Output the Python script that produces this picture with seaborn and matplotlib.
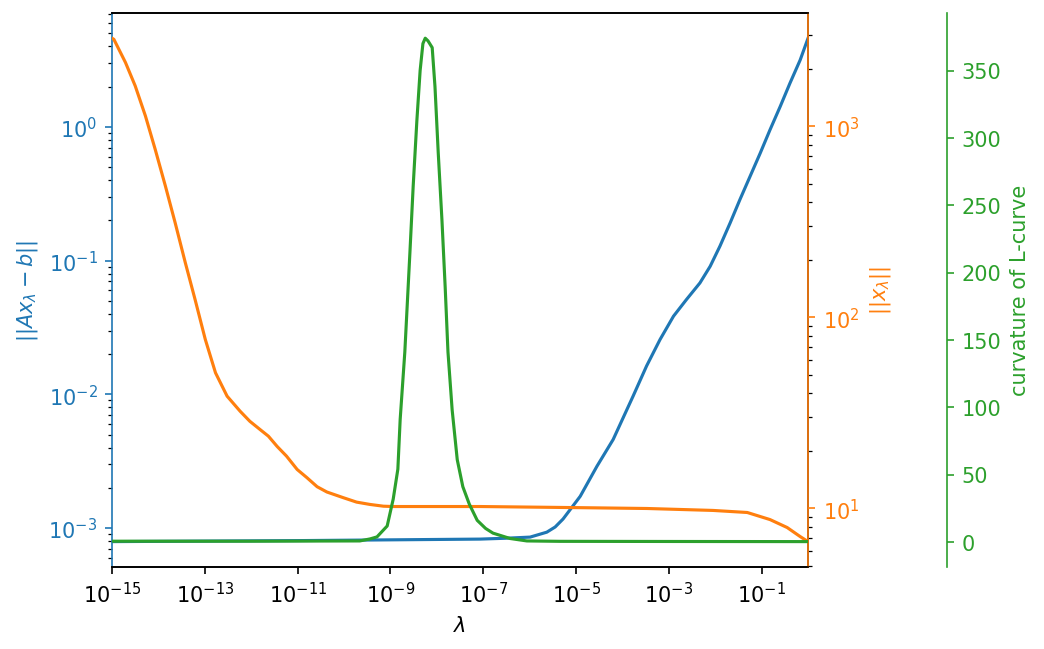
"""
L-curve diagnostics: residual norm, solution norm and L-curve curvature
against the regularisation parameter lambda, on three y-axes.
"""

import numpy as np
import matplotlib
matplotlib.use("Agg")
import matplotlib.pyplot as plt
import seaborn as sns

# residual norm ||A x_lambda - b||  (log10 lambda, value)
resid_exp = [-15.0, -10.95, -7.07, -6.53, -5.99, -5.63, -5.45, -5.28, -4.91,
             -4.55, -4.20, -4.05, -3.77, -3.48, -3.19, -2.90, -2.62, -2.33,
             -2.11, -1.90, -1.68, -1.47, -1.25, -1.03, -0.82, -0.60, -0.39,
             -0.17, 0.0]
resid_val = [7.93e-4, 8.07e-4, 8.28e-4, 8.4e-4, 8.57e-4, 9.33e-4, 1.02e-3,
             1.17e-3, 1.73e-3, 2.90e-3, 4.6e-3, 5.97e-3, 9.71e-3, 0.0163,
             0.0257, 0.0384, 0.0512, 0.0681, 0.0906, 0.128, 0.191, 0.285,
             0.426, 0.637, 0.950, 1.42, 2.12, 3.16, 4.6]

# solution norm ||x_lambda||
xnorm_exp = [-15.0, -14.96, -14.71, -14.50, -14.28, -14.07, -13.85, -13.64,
             -13.42, -13.21, -12.99, -12.77, -12.52, -12.24, -12.03, -11.81,
             -11.63, -11.44, -11.24, -11.01, -10.80, -10.58, -10.37, -10.02,
             -9.73, -9.44, -9.15, -8.94, -7.07, -4.91, -3.47, -2.05, -1.31,
             -0.82, -0.45, -0.17, 0.0]
xnorm_val = [2890, 2851, 2156, 1626, 1132, 758, 487, 313, 193, 124, 76.7,
             51.3, 38.7, 32.3, 28.6, 25.9, 23.9, 21.1, 18.8, 16.0, 14.5, 13.0,
             12.2, 11.4, 10.8, 10.5, 10.28, 10.24, 10.24, 10.1, 10.0, 9.77,
             9.53, 8.75, 7.95, 7.13, 6.71]

# curvature of the L-curve
curv_exp = [-15.0, -12.0, -9.66, -9.44, -9.29, -9.07, -8.94, -8.84, -8.79,
            -8.69, -8.58, -8.51, -8.43, -8.36, -8.30, -8.25, -8.19, -8.10,
            -8.04, -7.97, -7.89, -7.82, -7.76, -7.67, -7.56, -7.44, -7.30,
            -7.13, -6.95, -6.79, -6.42, -6.06, -5.34, -3.0, 0.0]
curv_val = [0.5, 0.5, 0.7, 2.2, 3.7, 11.8, 31.8, 54, 91, 141, 215, 264, 313,
            350, 370, 374, 372, 367, 338, 289, 239, 189, 141, 98, 61, 41,
            28, 16, 10, 6.5, 2.5, 0.7, 0.4, 0.3, 0.2]


def main():
    fig, ax = plt.subplots(figsize=(6.96, 4.333), dpi=150)
    fig.subplots_adjust(left=0.1073, right=0.774, top=0.9785, bottom=0.1265)

    ax2 = ax.twinx()
    ax3 = ax.twinx()
    ax3.spines["right"].set_position(("axes", 1.2))

    sns.lineplot(x=10.0 ** np.array(resid_exp), y=resid_val, ax=ax,
                 color="C0", sort=False)
    sns.lineplot(x=10.0 ** np.array(xnorm_exp), y=xnorm_val, ax=ax2,
                 color="C1", sort=False)
    sns.lineplot(x=10.0 ** np.array(curv_exp), y=curv_val, ax=ax3,
                 color="C2", sort=False)

    ax.set_xscale("log")
    ax.set_yscale("log")
    ax2.set_yscale("log")
    ax.set_xlim(1e-15, 1.0)
    ax.set_xticks([10.0 ** k for k in range(-15, 1, 2)])

    ax.set_xlabel(r"$\lambda$")
    ax.set_ylabel(r"$||Ax_\lambda - b||$", color="C0")
    ax2.set_ylabel(r"$||x_\lambda||$", color="C1")
    ax3.set_ylabel("curvature of L-curve", color="C2")

    ax.tick_params(axis="y", colors="C0")
    ax2.tick_params(axis="y", colors="C1")
    ax3.tick_params(axis="y", colors="C2")

    ax.spines["left"].set_color("C0")
    ax2.spines["right"].set_color("C1")
    ax3.spines["right"].set_color("C2")
    for a in (ax2, ax3):
        a.spines["left"].set_visible(False)
    for s in ("top", "bottom"):
        ax3.spines[s].set_visible(False)

    fig.savefig("out.png", dpi=150)
    plt.close(fig)


if __name__ == "__main__":
    main()
